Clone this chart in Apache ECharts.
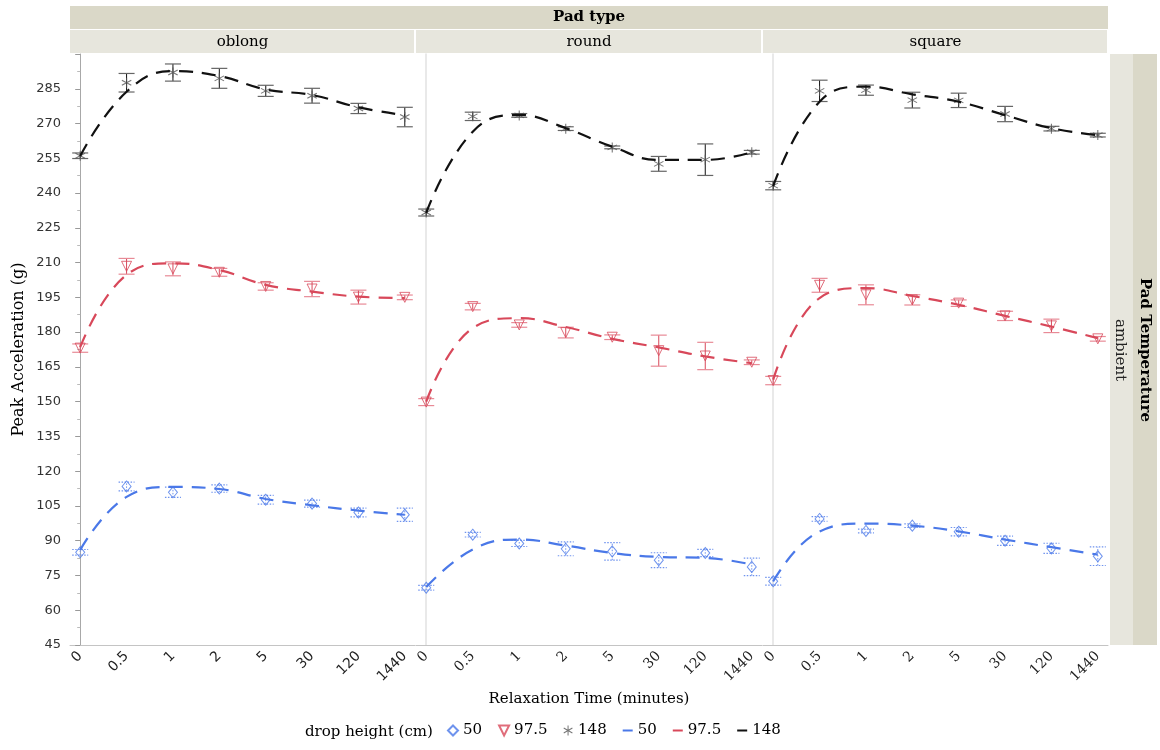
<!DOCTYPE html>
<html>
<head>
<meta charset="utf-8">
<script src="https://cdn.jsdelivr.net/npm/echarts@6/dist/echarts.min.js"></script>
<style>
    html, body { margin: 0; padding: 0; background: #fff; }
    #chart { width: 1160px; height: 750px; }
</style>
</head>
<body>
<div id="chart"></div>
<script>
// relaxation time categories and facets
var timeLabels = ['0', '0.5', '1', '2', '5', '30', '120', '1440'];
var padTypes = ['oblong', 'round', 'square'];
var dropHeights = ['50', '97.5', '148'];

// means, error half-widths and fitted curve
var oblong50 = [85.0, 113.4, 110.9, 112.5, 107.7, 106.0, 102.2, 101.2];
var oblong50Err = [1.2, 1.9, 2.2, 1.6, 1.9, 1.5, 1.9, 2.9];
var oblong50Fit = [86.0, 108.9, 113.2, 112.3, 108.0, 105.3, 103.0, 101.2];
var oblong975 = [173.1, 208.4, 207.3, 205.8, 199.7, 198.6, 195.1, 195.0];
var oblong975Err = [1.8, 3.4, 3.0, 1.7, 1.6, 3.3, 3.0, 1.0];
var oblong975Fit = [173.5, 204.7, 209.7, 206.8, 200.4, 197.5, 195.3, 194.7];
var oblong148 = [256.1, 287.6, 292.0, 289.5, 284.1, 282.0, 276.5, 272.8];
var oblong148Err = [1.2, 4.0, 3.7, 4.3, 2.4, 3.2, 2.2, 4.2];
var oblong148Fit = [256.0, 283.7, 292.6, 290.5, 284.7, 282.3, 277.0, 273.6];

var round50 = [69.7, 92.6, 88.8, 86.5, 85.4, 81.6, 84.7, 78.7];
var round50Err = [1.0, 1.0, 1.3, 3.0, 3.8, 3.2, 1.6, 3.8];
var round50Fit = [70.0, 86.2, 90.5, 87.9, 84.7, 83.0, 82.6, 79.7];
var round975 = [149.8, 191.0, 183.1, 179.8, 177.8, 172.0, 169.7, 167.0];
var round975Err = [1.5, 1.4, 1.0, 2.3, 1.0, 6.7, 5.9, 1.0];
var round975Fit = [150.0, 181.7, 186.0, 182.2, 177.1, 173.4, 169.5, 166.6];
var round148 = [231.6, 273.1, 273.5, 267.8, 259.7, 252.6, 254.4, 257.6];
var round148Err = [1.5, 1.8, 0.8, 0.8, 0.6, 3.2, 6.8, 0.8];
var round148Fit = [231.5, 266.5, 273.7, 268.0, 260.0, 254.3, 254.3, 257.6];

var square50 = [72.5, 99.4, 94.2, 96.5, 93.9, 90.0, 86.7, 83.3];
var square50Err = [1.7, 1.0, 0.8, 0.8, 1.8, 2.0, 2.2, 4.0];
var square50Fit = [72.5, 94.0, 97.4, 96.5, 94.0, 90.5, 87.2, 84.0];
var square975 = [159.1, 200.2, 196.1, 193.9, 192.5, 187.0, 182.7, 177.1];
var square975Err = [1.8, 3.0, 4.3, 2.2, 1.4, 2.0, 2.9, 1.0];
var square975Fit = [159.5, 194.7, 199.0, 195.6, 191.8, 187.0, 182.4, 177.4];
var square148 = [243.2, 284.1, 284.4, 280.1, 280.0, 274.1, 267.8, 265.0];
var square148Err = [1.8, 4.6, 2.2, 3.4, 3.1, 3.3, 1.0, 0.8];
var square148Fit = [243.0, 279.4, 285.9, 282.6, 279.4, 273.6, 268.0, 265.0];

var panels = [
    [[oblong50, oblong50Err, oblong50Fit], [oblong975, oblong975Err, oblong975Fit], [oblong148, oblong148Err, oblong148Fit]],
    [[round50, round50Err, round50Fit], [round975, round975Err, round975Fit], [round148, round148Err, round148Fit]],
    [[square50, square50Err, square50Fit], [square975, square975Err, square975Fit], [square148, square148Err, square148Fit]]
];

var SERIF = '"DejaVu Serif", serif';
var SANS = '"DejaVu Sans", sans-serif';

var colors = ['#4a78e8', '#d8485a', '#111111'];
var barStyles = [
    {stem: '#6f93ee', cap: '#6f93ee', dash: [1.5, 1.5]},
    {stem: '#d8485a', cap: '#e88a96', dash: null},
    {stem: '#111111', cap: '#666666', dash: null}
];
var asterisk = 'path://M4.5,0L5.5,0L5.5,10L4.5,10Z'
    + 'M0.42,7.07L9.08,2.07L9.58,2.93L0.92,7.93Z'
    + 'M0.92,2.07L9.58,7.07L9.08,7.93L0.42,2.93Z';
var downTriangle = 'path://M0,0L10,0L5,10Z';
var markerSymbols = ['diamond', downTriangle, asterisk];
var markerSizes = [[9, 11], 10, 10];

var lefts = [70, 416, 763];
var widths = [345, 346, 345];

function errorRenderer(style) {
    return function (params, api) {
        var x = api.value(0);
        var lo = api.coord([x, api.value(1)]);
        var hi = api.coord([x, api.value(2)]);
        var w = 8;
        var stem = {stroke: style.stem, lineWidth: 1, lineDash: style.dash};
        var cap = {stroke: style.cap, lineWidth: 1.2, lineDash: style.dash};
        return {
            type: 'group',
            children: [
                {type: 'line', shape: {x1: lo[0], y1: lo[1], x2: hi[0], y2: hi[1]}, style: stem},
                {type: 'line', shape: {x1: lo[0] - w, y1: lo[1], x2: lo[0] + w, y2: lo[1]}, style: cap},
                {type: 'line', shape: {x1: hi[0] - w, y1: hi[1], x2: hi[0] + w, y2: hi[1]}, style: cap}
            ]
        };
    };
}

var grids = [];
var xAxes = [];
var yAxes = [];
var series = [];

padTypes.forEach(function (pad, p) {
    grids.push({left: lefts[p], width: widths[p], top: 54, height: 591});
    xAxes.push({
        gridIndex: p,
        type: 'value',
        min: -0.22,
        max: 7.22,
        splitLine: {show: false},
        axisLine: {show: true, onZero: false, lineStyle: {color: '#c4c4c4'}},
        axisTick: {show: false},
        axisLabel: {
            customValues: [0, 1, 2, 3, 4, 5, 6, 7],
            formatter: function (v) { return timeLabels[v]; },
            rotate: 45,
            margin: 9,
            color: '#222',
            fontSize: 14,
            fontFamily: p === 0 ? SANS : SERIF
        },
        name: p === 1 ? 'Relaxation Time (minutes)' : '',
        nameLocation: 'middle',
        nameGap: 46,
        nameTextStyle: {fontFamily: SERIF, fontSize: 15, color: '#000'}
    });
    yAxes.push({
        gridIndex: p,
        type: 'value',
        min: 45,
        max: 300,
        interval: 15,
        splitLine: {show: false},
        axisLine: {show: true, lineStyle: {color: p === 0 ? '#a8a8a8' : '#e2e2e2', width: p === 0 ? 1 : 1.5}},
        axisTick: {show: p === 0, length: 5, lineStyle: {color: '#999'}},
        minorTick: {show: p === 0, splitNumber: 2, length: 3, lineStyle: {color: '#bbb'}},
        axisLabel: {
            show: p === 0,
            showMaxLabel: false,
            margin: 9,
            color: '#333',
            fontSize: 13,
            fontFamily: SANS
        },
        name: p === 0 ? 'Peak Acceleration (g)' : '',
        nameLocation: 'middle',
        nameGap: 43,
        nameTextStyle: {fontFamily: SERIF, fontSize: 16, color: '#000'}
    });

    dropHeights.forEach(function (h, k) {
        var means = panels[p][k][0];
        var errs = panels[p][k][1];
        var fit = panels[p][k][2];
        series.push({
            type: 'custom',
            name: 'e' + h,
            xAxisIndex: p,
            yAxisIndex: p,
            z: 2,
            silent: true,
            renderItem: errorRenderer(barStyles[k]),
            encode: {x: 0, y: [1, 2]},
            data: means.map(function (m, i) { return [i, m - errs[i], m + errs[i]]; })
        });
        series.push({
            type: 'scatter',
            name: 'm' + h,
            xAxisIndex: p,
            yAxisIndex: p,
            z: 3,
            symbol: markerSymbols[k],
            symbolSize: markerSizes[k],
            itemStyle: k === 2
                ? {color: '#555'}
                : {color: 'rgba(255,255,255,0)', borderColor: colors[k], borderWidth: 1},
            data: means.map(function (m, i) { return [i, m]; })
        });
        series.push({
            type: 'line',
            name: 'f' + h,
            xAxisIndex: p,
            yAxisIndex: p,
            z: 4,
            smooth: 0.45,
            showSymbol: false,
            color: colors[k],
            lineStyle: {color: colors[k], width: 2.2, type: [14, 9]},
            data: fit.map(function (v, i) { return [i, v]; })
        });
    });
});

var lineIcon = 'path://M0,0L10,0L10,2L0,2Z';
var legendData = [
    {name: 'm50', icon: 'diamond'},
    {name: 'm97.5', icon: downTriangle},
    {name: 'm148', icon: asterisk},
    {name: 'f50', icon: lineIcon},
    {name: 'f97.5', icon: lineIcon},
    {name: 'f148', icon: lineIcon}
];

var headerFill = '#dad8c8';
var panelFill = '#e7e6dd';
var graphics = [
    {type: 'rect', shape: {x: 70, y: 6, width: 1038, height: 23}, style: {fill: headerFill}},
    {type: 'text', x: 589, y: 17.5, style: {text: 'Pad type', font: 'bold 15px ' + SERIF, fill: '#000', align: 'center', verticalAlign: 'middle'}},
    {type: 'rect', shape: {x: 1110, y: 54, width: 23, height: 591}, style: {fill: panelFill}},
    {type: 'rect', shape: {x: 1133, y: 54, width: 24, height: 591}, style: {fill: headerFill}},
    {type: 'text', x: 1145, y: 350, rotation: -Math.PI / 2, style: {text: 'Pad Temperature', font: 'bold 15px ' + SERIF, fill: '#000', align: 'center', verticalAlign: 'middle'}},
    {type: 'text', x: 1120, y: 350, rotation: -Math.PI / 2, style: {text: 'ambient', font: '15px ' + SERIF, fill: '#222', align: 'center', verticalAlign: 'middle'}},
    {type: 'text', x: 305, y: 732, style: {text: 'drop height (cm)', font: '15px ' + SERIF, fill: '#000', align: 'left', verticalAlign: 'middle'}}
];
padTypes.forEach(function (pad, p) {
    graphics.push({type: 'rect', shape: {x: lefts[p], y: 30, width: widths[p] - 1, height: 23}, style: {fill: panelFill}});
    graphics.push({type: 'text', x: lefts[p] + widths[p] / 2, y: 42, style: {text: pad, font: '15px ' + SERIF, fill: '#000', align: 'center', verticalAlign: 'middle'}});
});

var chart = echarts.init(document.getElementById('chart'), null, {renderer: 'canvas'});
chart.setOption({
    animation: false,
    backgroundColor: '#fff',
    grid: grids,
    xAxis: xAxes,
    yAxis: yAxes,
    legend: {
        data: legendData,
        left: 442,
        top: 718,
        itemWidth: 10,
        itemHeight: 10,
        itemGap: 16,
        formatter: function (name) { return name.slice(1); },
        textStyle: {fontFamily: SERIF, fontSize: 15, color: '#000'}
    },
    graphic: graphics,
    series: series
});
</script>
</body>
</html>
